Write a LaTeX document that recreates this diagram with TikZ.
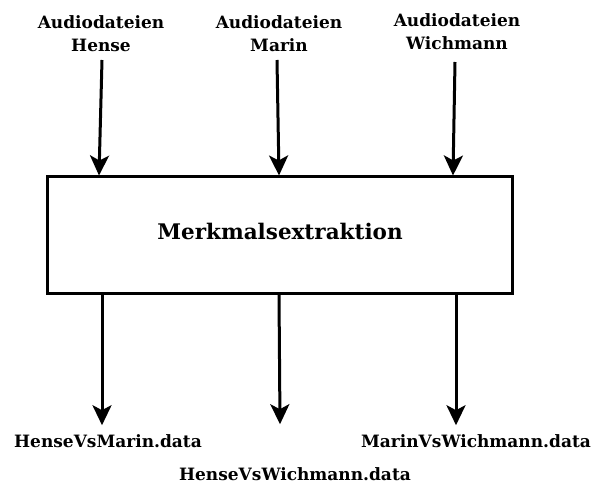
\documentclass[tikz,border=0pt]{standalone}
\usepackage{fontspec}
\setmainfont{DejaVu Serif}
\usetikzlibrary{arrows.meta,positioning}

\tikzset{
  flow/.style={-{Stealth[length=20pt,width=19pt,inset=5pt]},line width=3pt,black},
  lbl/.style={font=\fontsize{17}{23}\selectfont\bfseries,align=center,inner sep=0pt},
  mainbox/.style={draw,line width=3pt,minimum width=465pt,minimum height=116pt,text depth=8pt,font=\fontsize{21.5}{24}\selectfont\bfseries}
}

\begin{document}
\begin{tikzpicture}[x=1pt,y=1pt]
\useasboundingbox (0,0) rectangle (592,-484);

\node [mainbox](box) at (280,-235) {Merkmalsextraktion};

\node [lbl,anchor=south](inH) at (101,-52) {Audiodateien\\Hense};
\node [lbl,anchor=south](inM) at (279,-52) {Audiodateien\\Marin};
\node [lbl,anchor=south](inW) at (457,-50) {Audiodateien\\Wichmann};

\node [lbl,anchor=center](outHM) at (108,-441) {HenseVsMarin.data};
\node [lbl,anchor=center](outHW) at (295,-474) {HenseVsWichmann.data};
\node [lbl,anchor=center](outMW) at (476,-441) {MarinVsWichmann.data};


\draw [flow] ([xshift=1pt,yshift=-8pt]inH.south)--([xshift=53pt]box.north west);
\draw [flow] ([xshift=-2pt,yshift=-8pt]inM.south)--([xshift=233pt]box.north west);
\draw [flow] ([xshift=-2pt,yshift=-12pt]inW.south)--([xshift=407pt]box.north west);

\draw [flow] ([xshift=56pt]box.south west)--([xshift=-6pt,yshift=9pt]outHM.north);
\draw [flow] ([xshift=233pt]box.south west)--([xshift=-15pt,yshift=43pt]outHW.north);
\draw [flow] ([xshift=410pt]box.south west)--([xshift=-20pt,yshift=9pt]outMW.north);

\end{tikzpicture}
\end{document}
